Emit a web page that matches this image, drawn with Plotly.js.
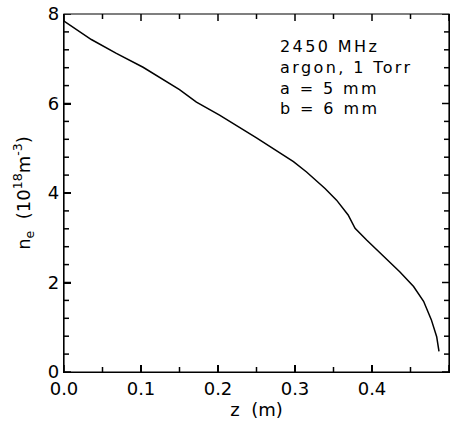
<!DOCTYPE html>
<html><head><meta charset="utf-8">
<script src="https://cdn.plot.ly/plotly-3.0.1.min.js"></script>
<style>html,body{margin:0;padding:0;background:#fff}
.modebar-container{display:none !important}
.annotation-text{letter-spacing:2.4px}</style>
</head><body><div id="chart" style="width:461px;height:425px"></div>
<script>
const zPos = [0, 0.0355, 0.068, 0.1027, 0.150, 0.172, 0.202, 0.25, 0.298, 0.315, 0.339, 0.354, 0.369, 0.372, 0.378, 0.393, 0.415, 0.436, 0.454, 0.467, 0.477, 0.484, 0.487];
const neDensity = [7.84, 7.43, 7.12, 6.81, 6.31, 6.03, 5.74, 5.23, 4.70, 4.47, 4.10, 3.84, 3.51, 3.40, 3.21, 2.95, 2.58, 2.24, 1.91, 1.58, 1.17, 0.79, 0.46];
const xTickVals = [0, 0.1, 0.2, 0.3, 0.4, 0.5];
const xTickText = ['0.0', '0.1', '0.2', '0.3', '0.4', '0.5'];
const xMinorVals = [0.05, 0.15, 0.25, 0.35, 0.45];
const yTickVals = [0, 2, 4, 6, 8];
const yMinorVals = [0.4, 0.8, 1.2, 1.6, 2.4, 2.8, 3.2, 3.6, 4.4, 4.8, 5.2, 5.6, 6.4, 6.8, 7.2, 7.6];
const infoLines = ['2450 MHz', 'argon, 1 Torr', 'a = 5 mm', 'b = 6 mm'];

const W = 461, H = 425, M = {l: 64, r: 12, t: 14, b: 53};
const plotW = W - M.l - M.r, plotH = H - M.t - M.b;
const font = {family: 'DejaVu Sans, Arial, sans-serif', color: '#000'};
const trace = {x: zPos, y: neDensity, mode: 'lines', line: {color: '#000', width: 1.5}, hoverinfo: 'skip'};

// minor and mirrored tick marks drawn as shapes, positioned by the data axes
const tickLine = {color: '#000', width: 1.5};
const shapes = [];
const addX = (vals, len) => vals.forEach(v => {
  shapes.push({type: 'line', xref: 'x', yref: 'paper', x0: v, x1: v, y0: 0, y1: len / plotH, line: tickLine});
  shapes.push({type: 'line', xref: 'x', yref: 'paper', x0: v, x1: v, y0: 1, y1: 1 - len / plotH, line: tickLine});
});
const addY = (vals, len) => vals.forEach(v => {
  shapes.push({type: 'line', xref: 'paper', yref: 'y', y0: v, y1: v, x0: 0, x1: len / plotW, line: tickLine});
  shapes.push({type: 'line', xref: 'paper', yref: 'y', y0: v, y1: v, x0: 1, x1: 1 - len / plotW, line: tickLine});
});
addX(xTickVals, 7); addX(xMinorVals, 5);
addY(yTickVals, 7); addY(yMinorVals, 5);

const layout = {
  width: W, height: H, margin: M,
  showlegend: false,
  xaxis: {range: [0, 0.5], tickvals: xTickVals, ticktext: xTickText,
    ticks: 'inside', ticklen: 7, tickwidth: 1.5, tickcolor: '#000',
    showline: true, linecolor: '#000', linewidth: 1.2, showgrid: false, zeroline: false,
    tickfont: Object.assign({size: 18}, font),
    title: {text: 'z\u00a0\u00a0(m)', font: Object.assign({size: 18}, font), standoff: 2}},
  yaxis: {range: [0, 8], tickvals: yTickVals,
    ticks: 'inside', ticklen: 7, tickwidth: 1.5, tickcolor: '#000',
    showline: true, linecolor: '#000', linewidth: 1.2, showgrid: false, zeroline: false, mirror: true,
    tickfont: Object.assign({size: 18}, font),
    title: {text: 'n<sub>e</sub>\u00a0\u00a0(10<sup>18</sup>m<sup>-3</sup>)', font: Object.assign({size: 18}, font), standoff: 12}},
  shapes: shapes.concat([
    {type: 'rect', xref: 'paper', yref: 'paper', x0: 0, x1: 1, y0: 0, y1: 1, line: {color: '#000', width: 1.2}}
  ]),
  annotations: [{xref: 'paper', yref: 'paper', x: 0.555, y: 0.94, xanchor: 'left', yanchor: 'top',
    align: 'left', showarrow: false, text: infoLines.join('<br>'), font: Object.assign({size: 16}, font)}]
};
Plotly.newPlot('chart', [trace], layout);
</script></body></html>
